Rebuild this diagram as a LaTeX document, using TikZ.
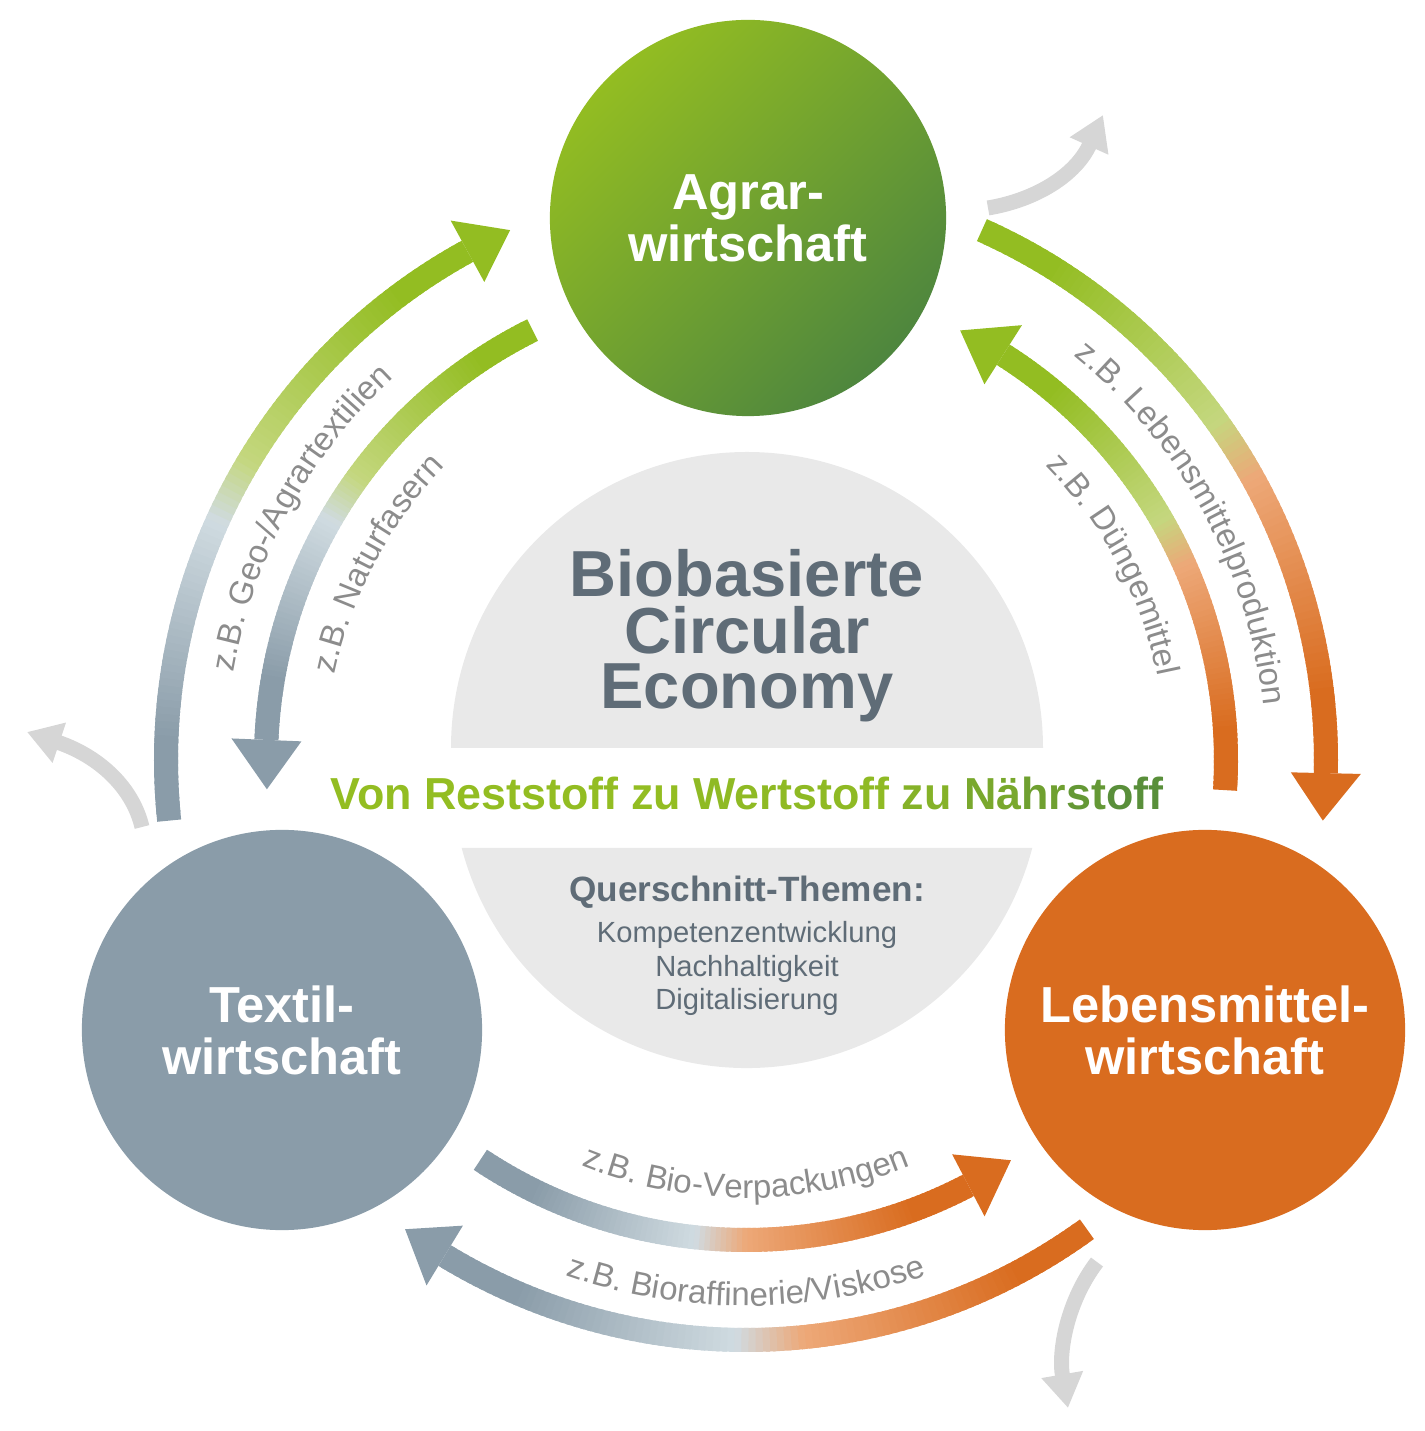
\documentclass[tikz,border=0pt]{standalone}
\usepackage{fontspec}
\setmainfont{Liberation Sans}
\usetikzlibrary{arrows.meta,decorations.text}

\definecolor{agrargreen}{HTML}{93BD22}
\definecolor{agrardark}{HTML}{4E863E}
\definecolor{textilgray}{HTML}{8A9CA9}
\definecolor{foodorange}{HTML}{D96C1F}
\definecolor{palegray}{HTML}{D0DBE1}
\definecolor{palegreen}{HTML}{C4D77E}
\definecolor{paleorange}{HTML}{EDA878}
\definecolor{centergray}{HTML}{E9E9E9}
\definecolor{slatetext}{HTML}{5F6C77}
\definecolor{labelgray}{HTML}{8C8C8C}
\definecolor{sidegray}{HTML}{D6D6D6}

% colour of one piece of a flow arc: t, then four colours
\newcommand{\segcolor}[5]{%
  \pgfmathsetmacro{\tv}{#1}%
  \ifdim\tv pt<0.12pt \colorlet{segc}{#2}%
  \else\ifdim\tv pt<0.45pt
    \pgfmathsetmacro{\pc}{100*(0.45-\tv)/0.33}\colorlet{segc}{#2!\pc!#3}%
  \else\ifdim\tv pt<0.55pt
    \pgfmathsetmacro{\pc}{100*(0.55-\tv)/0.10}\colorlet{segc}{#3!\pc!#4}%
  \else\ifdim\tv pt<0.88pt
    \pgfmathsetmacro{\pc}{100*(0.88-\tv)/0.33}\colorlet{segc}{#4!\pc!#5}%
  \else \colorlet{segc}{#5}%
  \fi\fi\fi\fi}

% radius, tail angle, head base angle, tip angle, four colours
\newcommand{\flowarc}[8]{%
  \foreach \k in {0,...,95}{%
    \pgfmathsetmacro{\angA}{(#2)+((#3)-(#2))*\k/96}%
    \pgfmathsetmacro{\angB}{(#2)+((#3)-(#2))*min(\k+1.6,96)/96}%
    \segcolor{(\k+0.5)/96}{#5}{#6}{#7}{#8}%
    \draw[line width=0.24cm, draw=segc] ([shift={(\angA:#1)}]hub) arc[start angle=\angA, end angle=\angB, radius=#1];
  }%
  \fill[#8] ([shift={(#3:#1+35)}]hub) -- ([shift={(#4:#1)}]hub) -- ([shift={(#3:#1-35)}]hub) -- cycle;
}

\newcommand{\labelfont}{\fontsize{9.4}{11}\selectfont}
% radius, start angle, end angle, text
\newcommand{\arclabel}[4]{%
  \path[decorate, decoration={text along path, text align=center, text color=labelgray,
    text={|\labelfont|#4}}] ([shift={(#2:#1)}]hub) arc[start angle=#2, end angle=#3, radius=#1];
}

\begin{document}
\begin{tikzpicture}[x=0.01cm, y=0.01cm]
  \tikzstyle{sector}=[circle, inner sep=0pt, minimum size=4cm, text=white, align=center,
    font=\fontsize{14.4}{14.8}\selectfont\bfseries]
  \tikzstyle{headline}=[anchor=base, inner sep=0pt, text=slatetext, font=\fontsize{18.5}{18.5}\selectfont\bfseries]
  \tikzstyle{motto}=[anchor=base, inner sep=0pt, font=\fontsize{12.75}{13}\selectfont\bfseries]
  \tikzstyle{themehead}=[anchor=base, inner sep=0pt, text=slatetext, font=\fontsize{10}{11}\selectfont\bfseries]
  \tikzstyle{themeitem}=[anchor=base, inner sep=0pt, text=slatetext, font=\fontsize{8.3}{9.7}\selectfont]
  \tikzstyle{sidearrow}=[draw=sidegray, line width=0.15cm, -{Triangle[width=0.4cm, length=0.34cm]}]

  \useasboundingbox (-746,-671) rectangle (678,760);
  \coordinate (hub) at (0,0);

  % grey centre, cut by the motto band
  \fill[centergray] (-295,12) arc[start angle=180, end angle=0, radius=296] -- cycle;
  \fill[centergray] (-284.3,-88) arc[start angle=194.73, end angle=345.27, radius=295] -- cycle;

  \node[sector, top color=agrargreen, bottom color=agrardark, shading angle=45, minimum size=3.96cm] (agrar) at (2,542) {Agrar-\\wirtschaft};
  \node[sector, fill=textilgray] (textil) at (-464,-270) {Textil-\\wirtschaft};
  \node[sector, fill=foodorange] (lebensmittel) at (459,-270) {Lebensmittel-\\wirtschaft};

  % flows between the sectors
  \flowarc{580}{186}{118.7}{114}{textilgray}{palegray}{palegreen}{agrargreen}
  \flowarc{480}{116.4}{177.6}{183.5}{agrargreen}{palegreen}{palegray}{textilgray}
  \flowarc{580}{66}{-1.3}{-6}{agrargreen}{palegreen}{paleorange}{foodorange}
  \flowarc{480}{-3.6}{57.6}{63.5}{foodorange}{paleorange}{palegreen}{agrargreen}
  \flowarc{480}{236.4}{297.6}{303.5}{textilgray}{palegray}{paleorange}{foodorange}
  \flowarc{580}{306}{238.7}{234}{foodorange}{paleorange}{palegray}{textilgray}

  \arclabel{520}{186.5}{116.5}{z.B. Geo-/Agrartextilien}
  \arclabel{420}{187}{117}{z.B. Naturfasern}
  \arclabel{520}{63.5}{-6.5}{z.B. Lebensmittelproduktion}
  \arclabel{420}{63}{-7}{z.B. Düngemittel}
  \arclabel{438}{235}{305}{z.B. Bio-Verpackungen}
  \arclabel{546}{235}{305}{z.B. Bioraffinerie/Viskose}

  % outflows
  \coordinate (agrarout) at (242,552);
  \coordinate (agrarend) at (357,645);
  \draw[sidearrow] (agrarout) .. controls (290,560) and (330,585) .. (agrarend);
  \coordinate (textilout) at (-604,-67);
  \coordinate (textilend) at (-719,28);
  \draw[sidearrow] (textilout) .. controls (-614,-25) and (-650,5) .. (textilend);
  \coordinate (foodout) at (351,-502);
  \coordinate (foodend) at (322,-648);
  \draw[sidearrow] (foodout) .. controls (322,-540) and (312,-590) .. (foodend);

  \node[headline] (bio) at (1,163) {Biobasierte};
  \node[headline] (circ) at (1,106) {Circular};
  \node[headline] (econ) at (1,51) {Economy};
  \node[motto] (motto) at (1,-50) {\textcolor{agrargreen}{Von Reststoff zu}
    \textcolor{agrargreen!94!agrardark}{Wertstoff} \textcolor{agrargreen!80!agrardark}{zu}
    \textcolor{agrargreen!62!agrardark}{Nä}\textcolor{agrargreen!48!agrardark}{hr}\textcolor{agrargreen!32!agrardark}{st}\textcolor{agrargreen!16!agrardark}{off}};
  \node[themehead] (themes) at (1,-142) {Querschnitt-Themen:};
  \node[themeitem] (comp) at (1,-183) {Kompetenzentwicklung};
  \node[themeitem] (sust) at (1,-217) {Nachhaltigkeit};
  \node[themeitem] (digi) at (1,-250) {Digitalisierung};
\end{tikzpicture}
\end{document}
